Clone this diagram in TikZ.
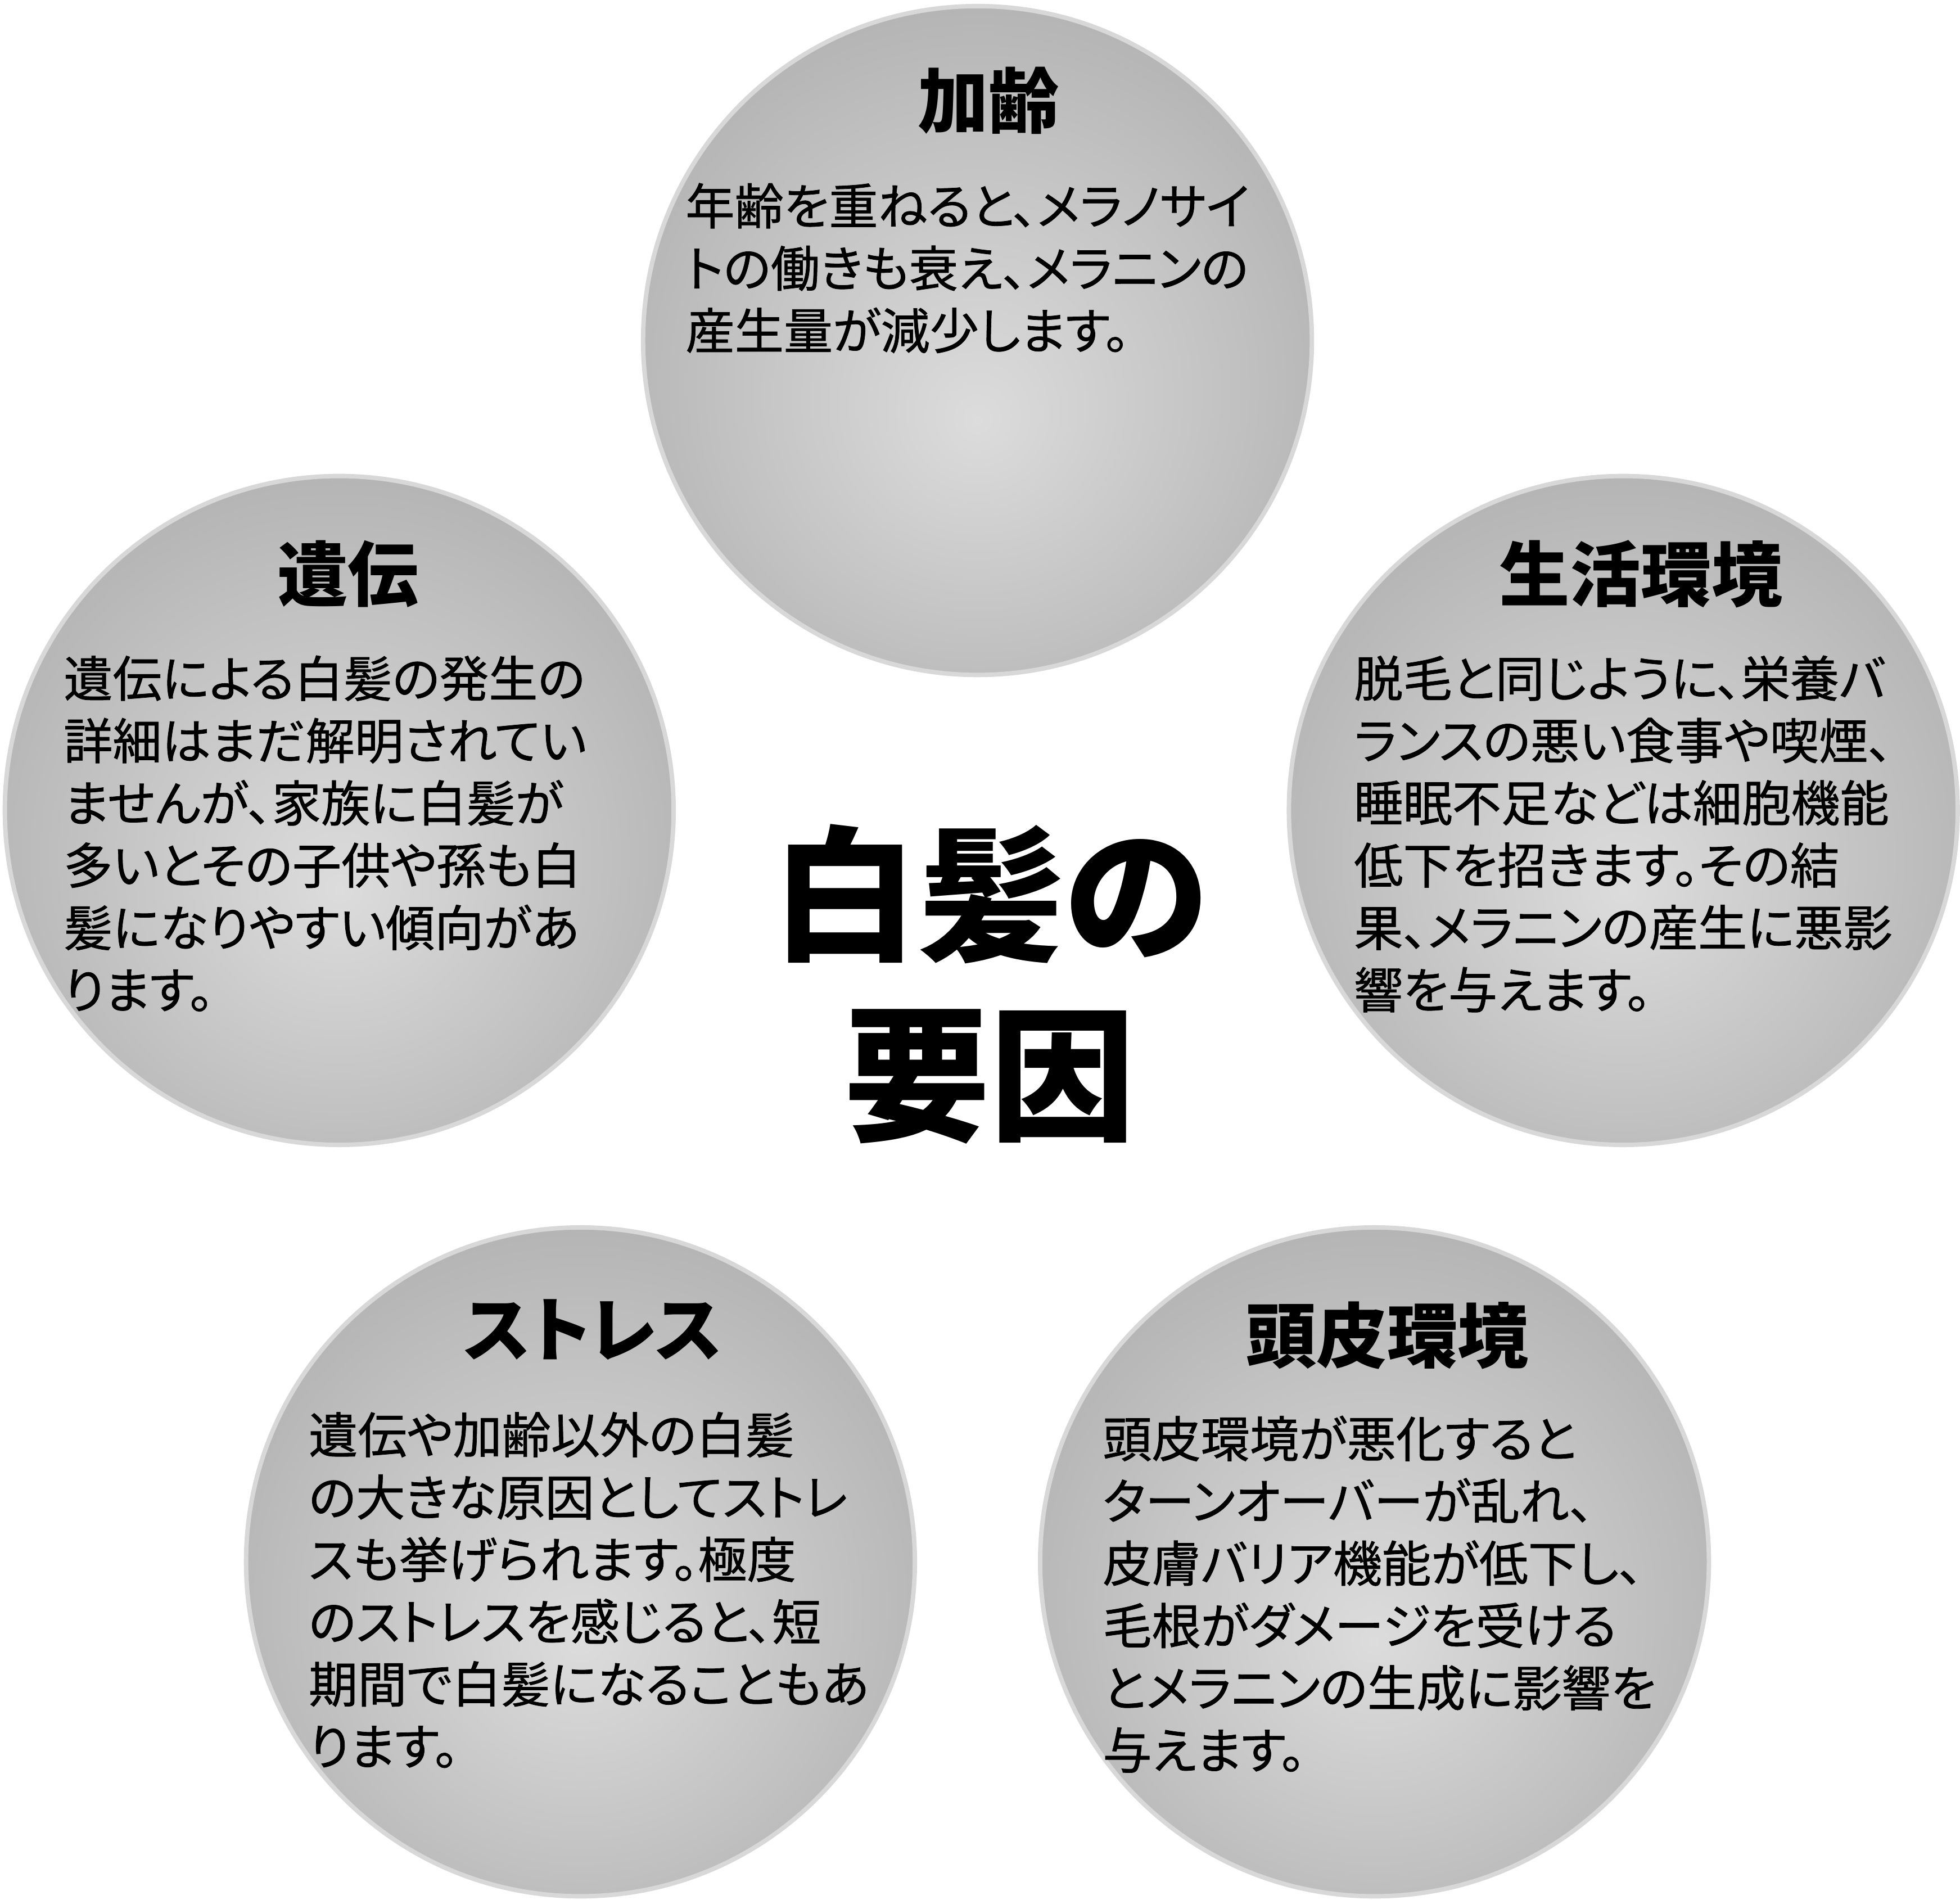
\documentclass[tikz,border=0pt]{standalone}
\usepackage{fontspec}
\newfontfamily\jp{Noto Sans CJK JP}[RawFeature=+palt]
\newfontfamily\jpbody{Noto Sans CJK JP}[RawFeature=+palt, FakeBold=0.9]
\definecolor{ballline}{HTML}{D8D8D8}
\definecolor{ballin}{HTML}{DCDCDC}
\definecolor{ballmid}{HTML}{C0C0C0}
\definecolor{ballout}{HTML}{9E9E9E}
\pgfdeclareradialshading{ballshade}{\pgfpoint{0bp}{-6bp}}{color(0bp)=(ballin); color(20bp)=(ballmid); color(43bp)=(ballout); color(50bp)=(ballout)}
\begin{document}
\begin{tikzpicture}[x=0.01cm,y=0.01cm,
  ball/.style={circle, draw=ballline, line width=1pt, shading=ballshade, minimum size=5.32cm, inner sep=0},
  bodytext/.style={font=\jpbody\fontsize{11.1}{14.1}\selectfont, align=left, anchor=north west, inner sep=0},
  titletext/.style={font=\jp\bfseries\fontsize{16}{18}\selectfont, inner sep=0},
  centertext/.style={font=\jp\bfseries\fontsize{33}{40.7}\selectfont, align=center, inner sep=0}]
\useasboundingbox (0,0) rectangle (1560,-1512);
\fill[white] (0,0) rectangle (1560,-1512);

\node[ball] (c1) at (778,-271) {};
\node[ball] (c2) at (270,-645) {};
\node[ball] (c3) at (1292,-645) {};
\node[ball] (c4) at (462,-1243) {};
\node[ball] (c5) at (1094,-1243) {};

\node[titletext] (t1) at (787,-80) {加齢};
\node[bodytext] (b1) at (545,-145) {年齢を重ねると、メラノサイ\\トの働きも衰え、メラニンの\\産生量が減少します。};

\node[titletext] (t2) at (277,-457) {遺伝};
\node[bodytext] (b2) at (50,-521) {遺伝による白髪の発生の\\詳細はまだ解明されてい\\ませんが、家族に白髪が\\多いとその子供や孫も白\\髪になりやすい傾向があ\\ります。};

\node[titletext] (t3) at (1306,-457) {生活環境};
\node[bodytext] (b3) at (1077,-521) {脱毛と同じように、栄養バ\\ランスの悪い食事や喫煙、\\睡眠不足などは細胞機能\\低下を招きます。その結\\果、メラニンの産生に悪影\\響を与えます。};

\node[titletext] (t4) at (472,-1058) {ストレス};
\node[bodytext] (b4) at (245,-1123) {遺伝や加齢以外の白髪\\の大きな原因としてストレ\\スも挙げられます。極度\\のストレスを感じると、短\\期間で白髪になることもあ\\ります。};

\node[titletext] (t5) at (1104,-1063) {頭皮環境};
\node[bodytext] (b5) at (877,-1126) {頭皮環境が悪化すると\\ターンオーバーが乱れ、\\皮膚バリア機能が低下し、\\毛根がダメージを受ける\\とメラニンの生成に影響を\\与えます。};

\node[centertext] (ct) at (788,-783) {白髪の\\要因};
\end{tikzpicture}
\end{document}
